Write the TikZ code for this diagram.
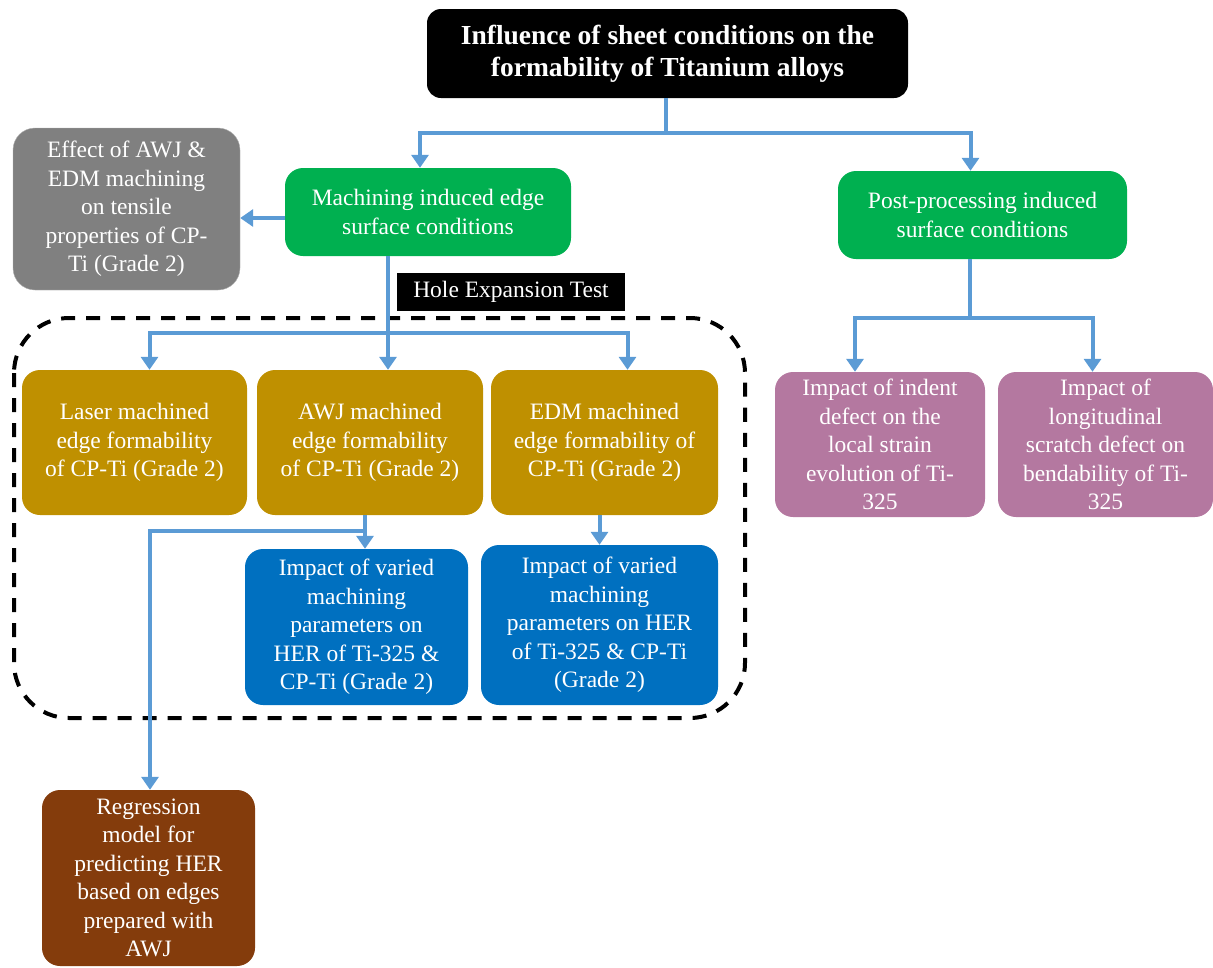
\documentclass[tikz,border=0pt]{standalone}
\usepackage{fontspec}
\setmainfont{Liberation Serif}
\usetikzlibrary{arrows.meta, positioning}
\definecolor{greenbox}{RGB}{0,176,80}
\definecolor{graybox}{RGB}{128,128,128}
\definecolor{goldbox}{RGB}{191,144,0}
\definecolor{bluebox}{RGB}{0,112,192}
\definecolor{pinkbox}{RGB}{180,120,160}
\definecolor{brownbox}{RGB}{132,60,12}
\definecolor{linkblue}{RGB}{91,155,213}

\begin{document}
\begin{tikzpicture}[x=1pt,y=-1pt,
    box/.style={rounded corners=18pt,text=white,align=center,inner sep=2pt,
                font=\fontsize{23.5}{28.5}\selectfont},
    link/.style={draw=linkblue,line width=4pt}]
  \tikzstyle{arr}=[link,-{Triangle[width=17pt,length=13pt]}]

  \useasboundingbox (0,0) rectangle (1213,967);

  \node[box,fill=black,rounded corners=14pt,minimum width=481pt,minimum height=89pt,
        font=\bfseries\fontsize{27.5}{32}\selectfont]
        (title) at (667.5,53.5) {Influence of sheet conditions on the\\formability of Titanium alloys};

  \node[box,fill=greenbox,minimum width=286pt,minimum height=88pt]
        (mach) at (428,212) {Machining induced edge\\surface conditions};
  \node[box,fill=greenbox,minimum width=289pt,minimum height=88pt]
        (post) at (982.5,215) {Post-processing induced\\surface conditions};
  \node[box,fill=graybox,draw=gray!60,minimum width=227pt,minimum height=162pt,rounded corners=22pt]
        (effect) at (126.5,209) {Effect of AWJ \&\\EDM machining\\on tensile\\properties of CP-\\Ti (Grade 2)};

  \node[fill=black,text=white,minimum width=228pt,minimum height=38pt,inner sep=0pt,
        font=\fontsize{23.5}{26}\selectfont]
        (het) at (511,292) {Hole Expansion Test};

  % hole expansion group
  \draw[line width=4pt,dash pattern=on 14pt off 11pt,rounded corners=55pt] (14,318) rectangle (745,718);

  \node[box,fill=goldbox,minimum width=225pt,minimum height=145pt]
        (laser) at (134.5,442.5) {Laser machined\\edge formability\\of CP-Ti (Grade 2)};
  \node[box,fill=goldbox,minimum width=226pt,minimum height=145pt]
        (awj) at (370,442.5) {AWJ machined\\edge formability\\of CP-Ti (Grade 2)};
  \node[box,fill=goldbox,minimum width=227pt,minimum height=145pt]
        (edm) at (604.5,442.5) {EDM machined\\edge formability of\\CP-Ti (Grade 2)};

  \node[box,fill=bluebox,minimum width=223pt,minimum height=156pt]
        (imp1) at (356.5,627) {Impact of varied\\machining\\parameters on\\HER of Ti-325 \&\\CP-Ti (Grade 2)};
  \node[box,fill=bluebox,minimum width=237pt,minimum height=160pt]
        (imp2) at (599.5,625) {Impact of varied\\machining\\parameters on HER\\of Ti-325 \& CP-Ti\\(Grade 2)};

  \node[box,fill=brownbox,minimum width=213pt,minimum height=176pt]
        (regr) at (148.5,878) {Regression\\model for\\predicting HER\\based on edges\\prepared with\\AWJ};

  \node[box,fill=pinkbox,minimum width=210pt,minimum height=145pt]
        (indent) at (880,444.5) {Impact of indent\\defect on the\\local strain\\evolution of Ti-\\325};
  \node[box,fill=pinkbox,minimum width=215pt,minimum height=145pt]
        (scratch) at (1105.5,444.5) {Impact of\\longitudinal\\scratch defect on\\bendability of Ti-\\325};

  % connectors
  \coordinate (tsplit) at (666,133);
  \coordinate (hsplit) at (388,333);
  \coordinate (asplit) at (365,531);
  \coordinate (psplit) at (970,318);

  \draw[link] (title.south -| tsplit) -- (tsplit);
  \draw[arr] (tsplit) -| ([xshift=-8pt]mach.north);
  \draw[arr] (tsplit) -| ([xshift=-12pt]post.north);
  \draw[arr] (mach.west |- 0,218) -- (effect.east |- 0,218);

  \draw[arr] (mach.south -| hsplit) -- (awj.north -| hsplit);
  \draw[arr] (hsplit) -| ([xshift=15pt]laser.north);
  \draw[arr] (hsplit) -| ([xshift=23pt]edm.north);

  \draw[arr] (awj.south -| asplit) -- (imp1.north -| asplit);
  \draw[arr] (asplit) -| ([xshift=1.5pt]regr.north);
  \draw[arr] (edm.south -| imp2.north) -- (imp2.north);

  \draw[link] (post.south -| psplit) -- (psplit);
  \draw[arr] (psplit) -| ([xshift=-25pt]indent.north);
  \draw[arr] (psplit) -| ([xshift=-13pt]scratch.north);
\end{tikzpicture}
\end{document}
